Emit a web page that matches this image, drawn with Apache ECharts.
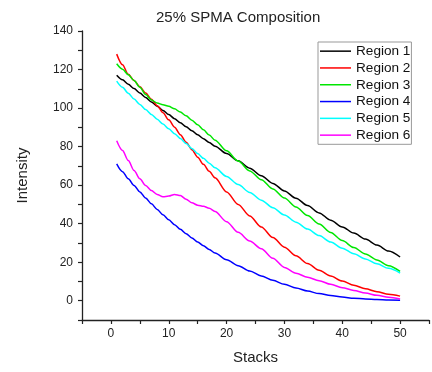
<!DOCTYPE html>
<html>
<head>
<meta charset="utf-8">
<script src="https://cdn.jsdelivr.net/npm/echarts@6/dist/echarts.min.js"></script>
<style>
  html, body { margin: 0; padding: 0; background: #fff; }
  #chart { width: 432px; height: 372px; }
</style>
</head>
<body>
<div id="chart"></div>
<script>
const stacks = [1, 2, 3, 4, 5, 6, 7, 8, 9, 10, 11, 12, 13, 14, 15, 16, 17, 18,
  20, 22, 24, 26, 28, 30, 32, 34, 36, 38, 40, 42, 44, 46, 48, 50];

const region1 = [117, 114.7, 112.4, 110.1, 107.8, 105.5, 103.2, 101, 98.8, 96.6, 94.5, 92.4, 90.3, 88.2, 86.1, 84.1, 82.1, 80.2,
  76.4, 72.6, 68.8, 64.9, 60.9, 57, 53.2, 49.4, 45.6, 41.8, 38.3, 35.1, 32, 28.9, 25.8, 22.7];
const region2 = [128, 122.5, 117.5, 114.3, 111, 107.8, 104.6, 101.2, 97.6, 93.9, 90.1, 86.2, 82.3, 78.4, 74.5, 70.8, 67.2, 63.8,
  56.5, 50, 44, 38.3, 32.8, 27.8, 23.3, 19.3, 15.8, 12.8, 10.2, 8, 6.2, 4.7, 3.4, 2.4];
const region3 = [123, 120.2, 117.3, 114.3, 110.8, 107, 104.2, 102.6, 101.7, 100.9, 99.6, 97.9, 96, 93.7, 91.3, 88.7, 86, 83.3,
  77.8, 72.5, 67.4, 62.8, 58, 53.3, 48.7, 44.2, 39.8, 35.4, 31.2, 27.6, 24.3, 21.2, 18.2, 15.2];
const region4 = [71, 67, 63.3, 59.8, 56.5, 53.3, 50.3, 47.4, 44.6, 42, 39.5, 37.1, 34.8, 32.6, 30.5, 28.5, 26.6, 24.8,
  21.3, 18.2, 15.4, 12.9, 10.6, 8.5, 6.6, 5, 3.7, 2.7, 1.9, 1.3, 0.9, 0.6, 0.4, 0.3];
const region5 = [114, 110.8, 107.7, 104.7, 101.9, 99.2, 96.7, 94.2, 91.7, 89.2, 86.7, 84.2, 81.6, 79, 76.4, 73.9, 71.4, 69,
  64.5, 60.3, 56.2, 52.2, 48.3, 44.5, 40.8, 37.2, 33.8, 30.5, 27.3, 24.4, 21.7, 19.2, 16.8, 14.4];
const region6 = [83, 78, 72.8, 67.6, 63.3, 59.8, 57.2, 55.2, 54, 54.3, 55.2, 54.6, 52.7, 50.8, 49.6, 49, 48, 46.3,
  41, 35.5, 31, 27, 22, 17.3, 14.3, 12.2, 10.4, 8.5, 6.8, 5.3, 4, 2.8, 1.8, 0.9];

const seriesNames = ['Region 1', 'Region 2', 'Region 3', 'Region 4', 'Region 5', 'Region 6'];
const seriesValues = [region1, region2, region3, region4, region5, region6];
const seriesColors = ['#000000', '#ff0000', '#00e600', '#0000ff', '#00ffff', '#ff00ff'];

const font = '"Liberation Sans", Arial, sans-serif';

const chart = echarts.init(document.getElementById('chart'));

chart.setOption({
  animation: false,
  backgroundColor: '#fff',
  title: {
    text: '25% SPMA Composition',
    left: 151,
    top: 5,
    textStyle: { fontFamily: font, fontSize: 15, fontWeight: 'normal', color: '#222' }
  },
  legend: {
    data: seriesNames,
    orient: 'vertical',
    left: 318,
    top: 42,
    padding: [1, 1, 1, 2],
    icon: 'rect',
    itemWidth: 31,
    itemHeight: 1.5,
    itemGap: 0.5,
    borderColor: '#999',
    borderWidth: 1,
    backgroundColor: '#fff',
    textStyle: { fontFamily: font, fontSize: 13.6, color: '#111', lineHeight: 16.3 }
  },
  grid: { left: 82, right: -8, top: 31, bottom: 52 },
  xAxis: {
    type: 'value',
    min: -5,
    max: 55,
    interval: 5,
    name: 'Stacks',
    nameLocation: 'middle',
    nameGap: 30,
    nameTextStyle: { fontFamily: font, fontSize: 15, color: '#222' },
    axisLine: { onZero: false, lineStyle: { color: '#222', width: 1.3 } },
    axisTick: { inside: false, length: 4, lineStyle: { color: '#222', width: 1.2 } },
    axisLabel: {
      margin: 8,
      fontFamily: font, fontSize: 12, color: '#222',
      formatter: (v) => (v >= 0 && v % 10 === 0 ? String(v) : '')
    },
    splitLine: { show: false }
  },
  yAxis: {
    type: 'value',
    min: -10,
    max: 140,
    interval: 10,
    name: 'Intensity',
    nameLocation: 'middle',
    nameGap: 52,
    nameTextStyle: { fontFamily: font, fontSize: 15, color: '#222' },
    axisLine: { show: true, onZero: false, lineStyle: { color: '#222', width: 1.3 } },
    axisTick: { show: true, inside: false, length: 4, lineStyle: { color: '#222', width: 1.2 } },
    axisLabel: {
      margin: 9,
      fontFamily: font, fontSize: 12, color: '#222',
      formatter: (v) => (v >= 0 && v % 20 === 0 ? String(v) : '')
    },
    splitLine: { show: false }
  },
  series: seriesNames.map((name, i) => ({
    name,
    type: 'line',
    data: stacks.map((s, j) => [s, seriesValues[i][j]]),
    smooth: 0.3,
    smoothMonotone: 'x',
    symbol: 'none',
    color: seriesColors[i],
    lineStyle: { width: 1.5, color: seriesColors[i] }
  }))
});
</script>
</body>
</html>
